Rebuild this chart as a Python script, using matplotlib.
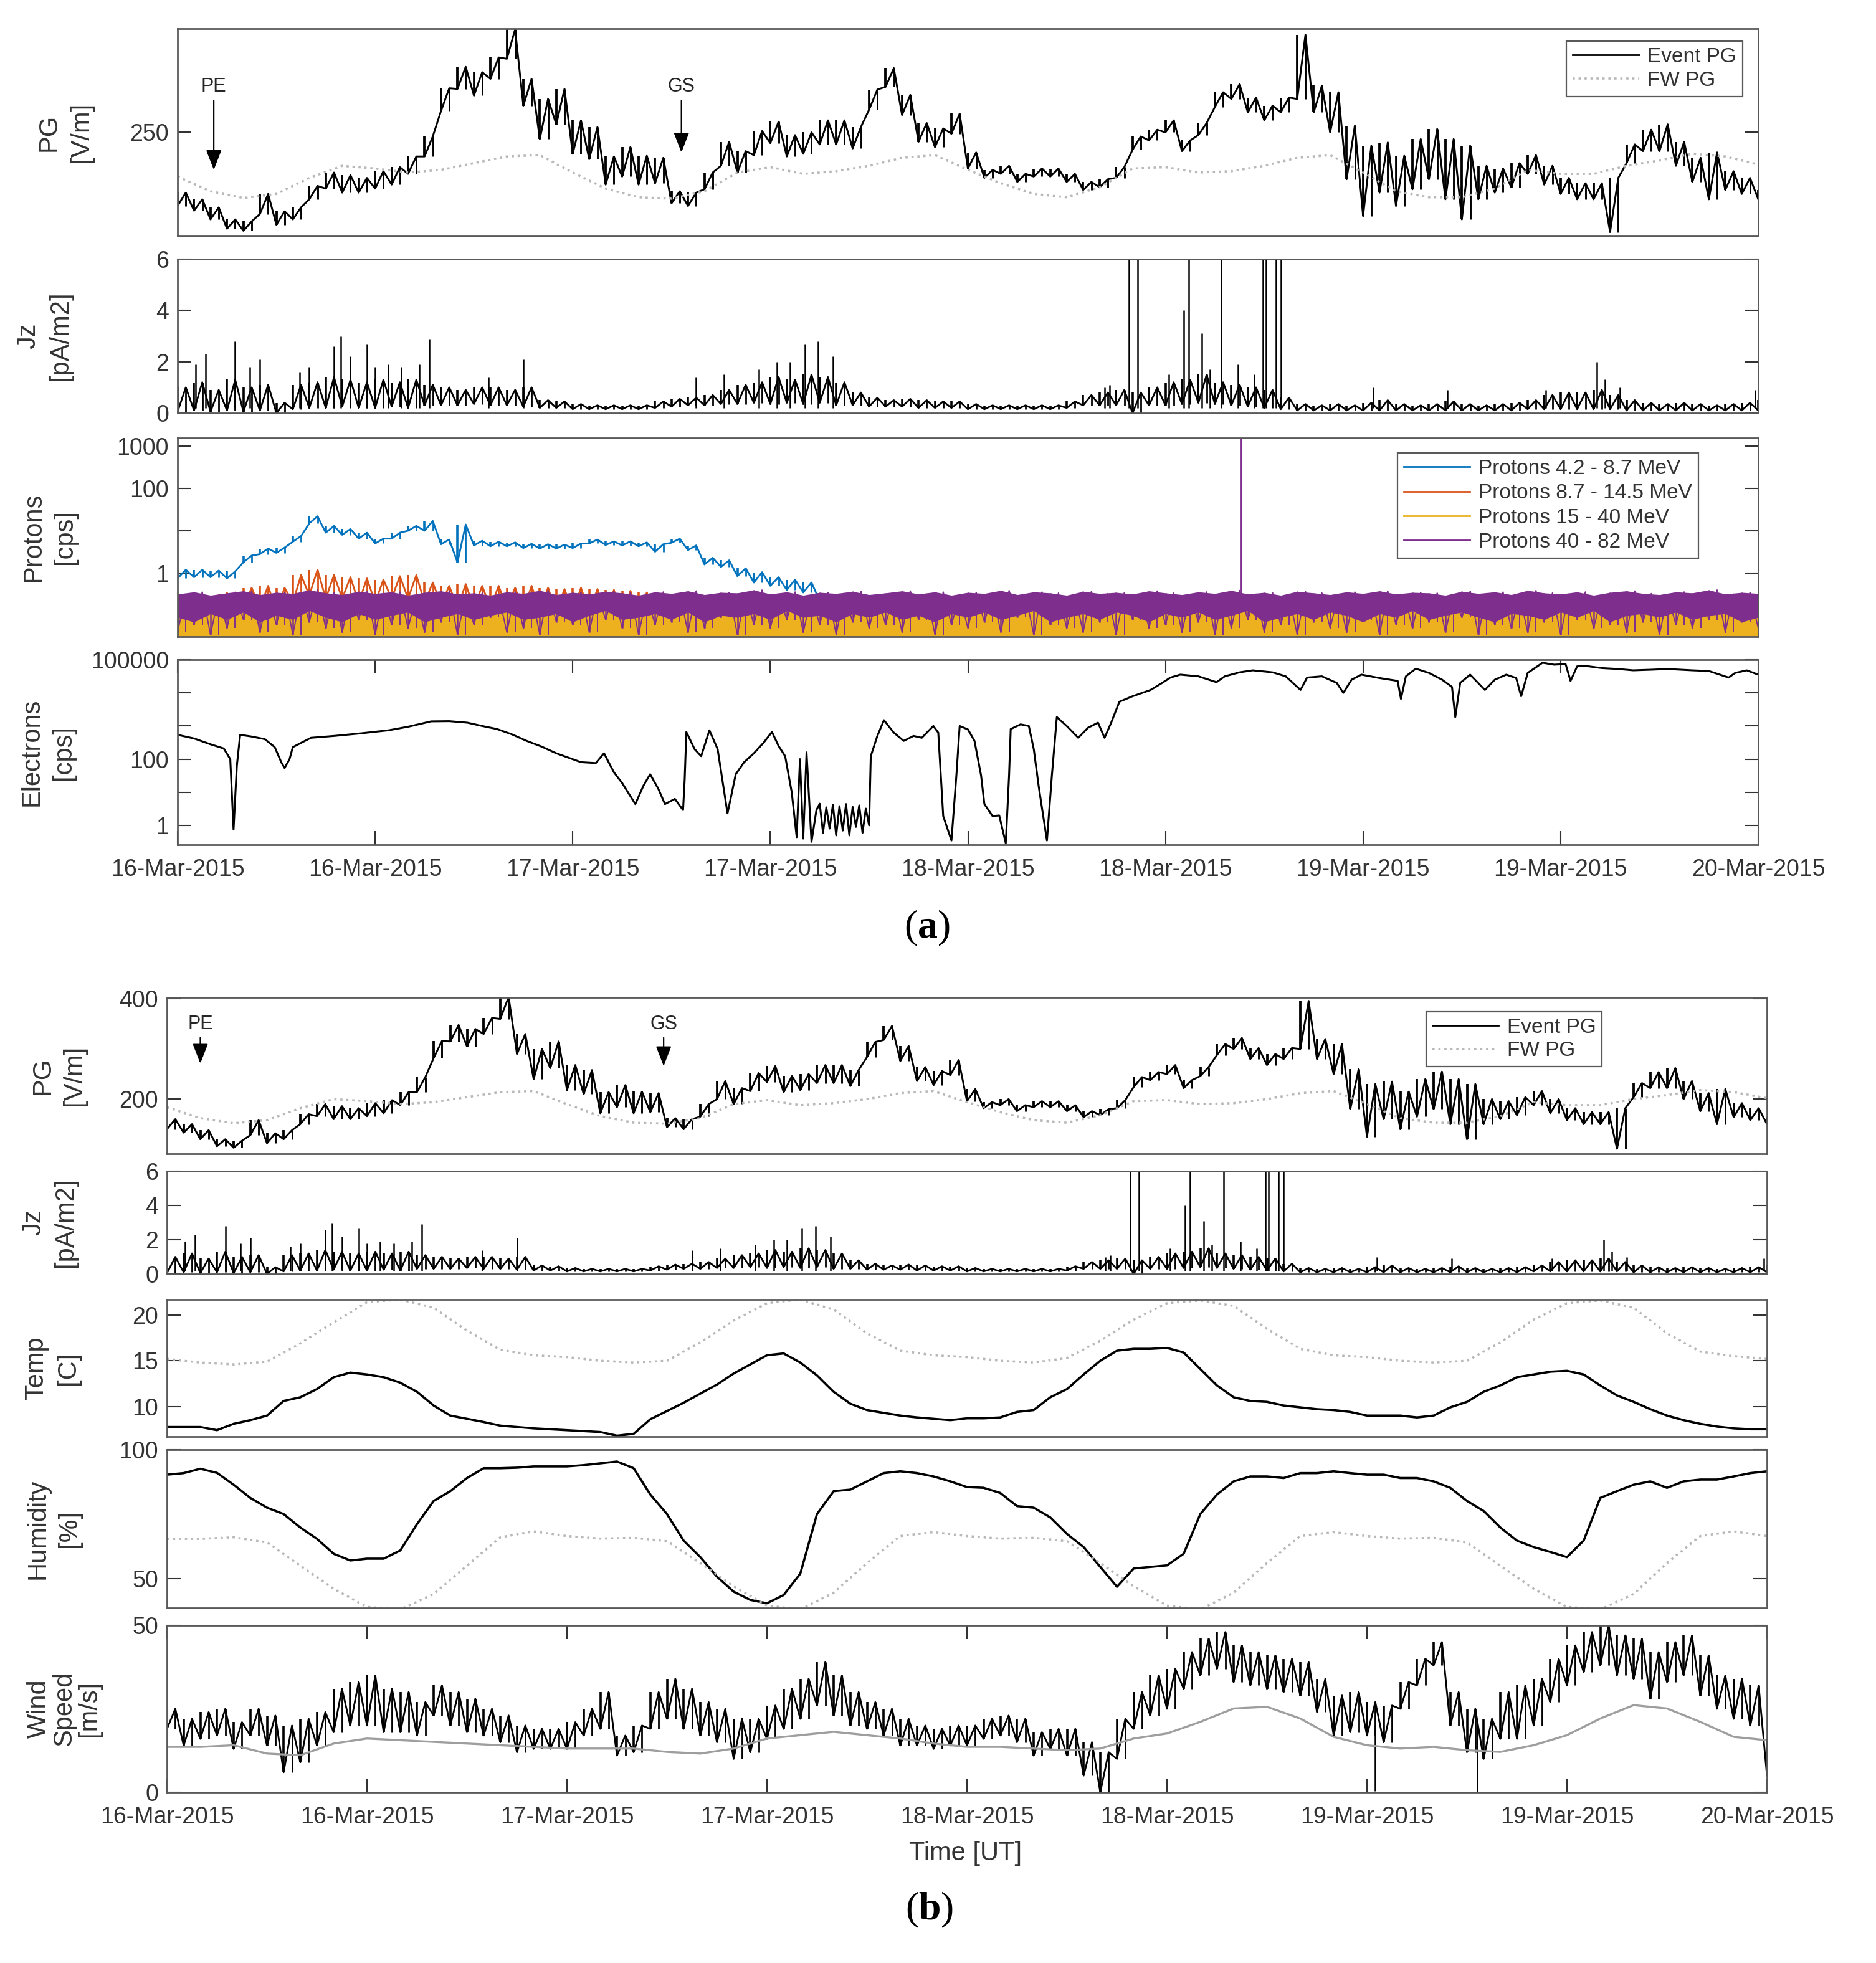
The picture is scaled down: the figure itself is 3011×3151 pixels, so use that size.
import matplotlib
matplotlib.use('Agg')
import matplotlib.pyplot as plt
import matplotlib.dates as mdates
from matplotlib.lines import Line2D
from matplotlib.ticker import FixedLocator, FixedFormatter, LogLocator, NullFormatter, NullLocator
import numpy as np
from datetime import datetime

plt.rcParams['font.family'] = ['Liberation Sans', 'DejaVu Sans']
plt.rcParams['mathtext.fontset'] = 'custom'
plt.rcParams['mathtext.rm'] = 'Liberation Serif'
plt.rcParams['mathtext.bf'] = 'Liberation Serif:bold'

# ---------------- data ----------------
start = mdates.date2num(datetime(2015, 3, 16))
hours = np.arange(97)          # hourly samples 16-Mar 00:00 .. 20-Mar 00:00
hours2 = np.arange(0, 97, 2)   # 2-hourly samples

# Event PG, hourly envelope [V/m]
pg_lo = [140, 133, 120, 106, 103, 128, 112, 120, 150, 166,
         160, 160, 166, 172, 188, 214, 282, 315, 305, 330,
         360, 290, 240, 262, 218, 210, 172, 184, 172, 174,
         144, 140, 165, 200, 190, 216, 234, 214, 218, 232,
         232, 226, 284, 318, 276, 236, 228, 248, 196, 182,
         188, 176, 184, 184, 176, 164, 168, 182, 224, 238,
         250, 222, 246, 288, 300, 280, 268, 280, 300, 280,
         250, 180, 125, 160, 140, 165, 180, 150, 120, 150,
         160, 168, 188, 172, 158, 150, 150, 101, 204, 222,
         222, 200, 176, 150, 164, 158, 150]
pg_hi = [160, 150, 138, 120, 117, 158, 132, 138, 170, 190,
         186, 182, 192, 198, 214, 244, 316, 348, 340, 362,
         404, 330, 300, 315, 268, 258, 214, 228, 215, 212,
         162, 160, 190, 236, 222, 252, 266, 246, 250, 268,
         268, 258, 314, 346, 306, 264, 256, 278, 220, 194,
         200, 188, 196, 196, 188, 176, 180, 198, 244, 254,
         268, 238, 264, 310, 322, 302, 290, 302, 396, 320,
         310, 260, 230, 235, 215, 240, 255, 240, 230, 200,
         196, 204, 216, 200, 182, 174, 174, 182, 232, 254,
         262, 236, 212, 220, 192, 182, 164]
# Fair weather PG, 2-hourly
pg_fw = [184, 162, 152, 158, 182, 200, 196, 190, 194, 204,
         214, 216, 190, 166, 153, 151, 162, 190, 198, 188,
         192, 200, 212, 216, 194, 174, 158, 153, 168, 196,
         198, 190, 192, 200, 212, 216, 190, 162, 153, 153,
         166, 194, 188, 188, 200, 208, 218, 214, 202]

# Jz, hourly envelope [pA/m2] plus narrow spikes
jz_lo = [0.05, 0.1, 0.05, 0.1, 0.05, 0.1, 0.0, 0.15, 0.2, 0.2,
         0.25, 0.2, 0.2, 0.25, 0.2, 0.3, 0.3, 0.3, 0.35, 0.3,
         0.3, 0.25, 0.2, 0.2, 0.15, 0.15, 0.15, 0.15, 0.15, 0.2,
         0.25, 0.3, 0.3, 0.35, 0.35, 0.4, 0.35, 0.4, 0.35, 0.4,
         0.3, 0.3, 0.25, 0.25, 0.25, 0.2, 0.2, 0.2, 0.15, 0.15,
         0.15, 0.15, 0.15, 0.15, 0.2, 0.3, 0.3, 0.3, 0.0, 0.3,
         0.3, 0.35, 0.4, 0.35, 0.3, 0.25, 0.2, 0.15, 0.1, 0.1,
         0.1, 0.1, 0.1, 0.1, 0.1, 0.1, 0.1, 0.1, 0.1, 0.1,
         0.1, 0.1, 0.15, 0.15, 0.15, 0.15, 0.15, 0.15, 0.1, 0.1,
         0.1, 0.1, 0.1, 0.1, 0.1, 0.1, 0.1]
jz_hi = [1.0, 1.2, 0.9, 1.3, 1.0, 1.1, 0.4, 1.1, 1.2, 1.4,
         1.3, 1.2, 1.3, 1.2, 1.3, 1.1, 1.0, 0.9, 1.0, 1.0,
         0.9, 1.0, 0.5, 0.45, 0.35, 0.3, 0.3, 0.3, 0.3, 0.45,
         0.55, 0.6, 0.7, 0.9, 1.1, 1.2, 1.4, 1.3, 1.5, 1.4,
         1.2, 0.8, 0.6, 0.5, 0.55, 0.5, 0.45, 0.45, 0.35, 0.3,
         0.3, 0.3, 0.3, 0.3, 0.45, 0.7, 0.8, 0.9, 0.8, 1.0,
         1.2, 1.3, 1.5, 1.2, 1.1, 1.0, 0.9, 0.6, 0.35, 0.3,
         0.35, 0.3, 0.4, 0.5, 0.35, 0.3, 0.35, 0.45, 0.35, 0.3,
         0.35, 0.4, 0.5, 0.7, 0.8, 0.8, 0.9, 0.7, 0.5, 0.4,
         0.35, 0.4, 0.35, 0.3, 0.35, 0.4, 0.5]
jz_spike_h = [1.1, 1.7, 3.5, 4.4, 5.0, 7.4, 8.0, 9.5, 9.9, 10.5,
              11.5, 12.0, 12.8, 13.6, 14.7, 15.3, 18.9, 21.0, 31.5, 33.2,
              35.3, 36.4, 37.2, 38.1, 38.9, 39.8, 56.3, 56.6, 57.8, 58.3,
              60.2, 61.1, 61.4, 62.2, 62.7, 63.4, 64.4, 65.4, 65.9, 66.1,
              66.7, 67.0, 72.6, 77.1, 83.1, 86.2, 86.7, 87.6, 95.8]
jz_spike_v = [1.9, 2.3, 2.8, 1.8, 2.1, 1.6, 1.8, 2.6, 3.0, 2.2,
              2.7, 1.8, 1.9, 1.8, 1.9, 2.9, 1.4, 2.1, 1.4, 1.5,
              1.7, 2.0, 2.0, 2.7, 2.8, 2.2, 1.0, 1.1, 7.0, 7.0,
              1.5, 4.0, 7.0, 3.1, 1.7, 7.0, 1.9, 1.5, 7.0, 7.0,
              7.0, 7.0, 1.0, 0.9, 0.9, 2.0, 1.3, 1.0, 0.9]

# Protons [cps]
blue_lo = [0.75, 0.8, 0.8, 0.75, 1.8, 2.8, 3.0, 5.5, 15, 9,
           8, 6.5, 5, 6.5, 10, 10, 4.8, 1.8, 4.5, 4.3,
           4.3, 3.9, 3.8, 3.8, 3.9, 5.0, 4.6, 4.5, 4.3, 3.2,
           5.2, 3.5, 1.6, 1.4, 0.85, 0.6, 0.5, 0.4, 0.35, 0.22]
blue_hi = [1.2, 1.2, 1.15, 1.1, 2.6, 3.8, 4.0, 7.5, 22, 13,
           11, 9, 6.5, 9, 13, 17, 6.2, 14, 5.8, 5.5,
           5.3, 4.9, 4.8, 4.7, 5.0, 6.2, 5.6, 5.6, 5.3, 4.8,
           6.5, 4.5, 2.3, 2.0, 1.3, 1.05, 0.8, 0.7, 0.6, 0.3]
orange_lo = [0.12, 0.1, 0.12, 0.1, 0.15, 0.15, 0.12, 0.2, 0.3, 0.25,
             0.25, 0.2, 0.2, 0.25, 0.25, 0.2, 0.18, 0.15, 0.15, 0.15,
             0.15, 0.13, 0.13, 0.12, 0.12, 0.12, 0.1, 0.1, 0.1, 0.1,
             0.1]
orange_hi = [0.3, 0.32, 0.3, 0.35, 0.45, 0.5, 0.45, 0.9, 1.2, 0.9,
             0.8, 0.75, 0.7, 0.85, 0.9, 0.6, 0.5, 0.55, 0.5, 0.5,
             0.45, 0.5, 0.45, 0.42, 0.45, 0.42, 0.4, 0.38, 0.35, 0.33,
             0.3]
yellow_hi = [0.09, 0.07, 0.11, 0.08, 0.12, 0.07, 0.10, 0.08, 0.13, 0.09,
             0.07, 0.11, 0.08, 0.10, 0.12, 0.07, 0.09, 0.11, 0.08, 0.10,
             0.12, 0.08, 0.09, 0.11, 0.07, 0.10, 0.13, 0.08, 0.09, 0.11,
             0.08, 0.12, 0.07, 0.10, 0.09, 0.11, 0.08, 0.13, 0.09, 0.10,
             0.07, 0.11, 0.09, 0.12, 0.08, 0.10, 0.07, 0.11, 0.09, 0.12,
             0.08, 0.10, 0.13, 0.07, 0.09, 0.11, 0.08, 0.12, 0.10, 0.07,
             0.11, 0.09, 0.12, 0.08, 0.10, 0.13, 0.07, 0.09, 0.11, 0.08,
             0.12, 0.10, 0.07, 0.11, 0.09, 0.13, 0.08, 0.10, 0.12, 0.09,
             0.07, 0.11, 0.10, 0.08, 0.12, 0.09, 0.13, 0.07, 0.10, 0.11,
             0.09, 0.12, 0.08, 0.10, 0.11, 0.07, 0.09]
purple_lo = [0.04, 0.06, 0.035, 0.05, 0.08, 0.04, 0.06, 0.035, 0.07, 0.05,
             0.04, 0.08, 0.035, 0.06, 0.05, 0.04, 0.07, 0.035, 0.06, 0.09,
             0.04, 0.05, 0.035, 0.07, 0.06, 0.04, 0.08, 0.05, 0.035, 0.06,
             0.07, 0.04, 0.05, 0.09, 0.035, 0.06, 0.05, 0.08, 0.04, 0.06,
             0.035, 0.07, 0.05, 0.06, 0.04, 0.08, 0.035, 0.06, 0.05, 0.07,
             0.04, 0.09, 0.035, 0.06, 0.05, 0.04, 0.07, 0.035, 0.08, 0.05,
             0.06, 0.04, 0.07, 0.035, 0.05, 0.08, 0.04, 0.06, 0.035, 0.07,
             0.05, 0.04, 0.08, 0.035, 0.06, 0.05, 0.07, 0.04, 0.09, 0.035,
             0.06, 0.05, 0.04, 0.07, 0.035, 0.08, 0.05, 0.06, 0.04, 0.07,
             0.035, 0.06, 0.05, 0.08, 0.04, 0.07, 0.05]
purple_hi = [0.32, 0.36, 0.30, 0.34, 0.38, 0.31, 0.35, 0.33, 0.40, 0.34,
             0.31, 0.37, 0.33, 0.36, 0.30, 0.35, 0.38, 0.32, 0.34, 0.30,
             0.36, 0.33, 0.39, 0.31, 0.35, 0.32, 0.37, 0.34, 0.30, 0.36,
             0.33, 0.38, 0.31, 0.35, 0.34, 0.40, 0.32, 0.36, 0.30, 0.35,
             0.33, 0.37, 0.31, 0.34, 0.38, 0.32, 0.36, 0.30, 0.35, 0.33,
             0.39, 0.31, 0.36, 0.34, 0.30, 0.37, 0.33, 0.35, 0.32, 0.38,
             0.34, 0.31, 0.36, 0.33, 0.39, 0.32, 0.35, 0.30, 0.37, 0.34,
             0.31, 0.36, 0.33, 0.38, 0.32, 0.35, 0.34, 0.30, 0.37, 0.33,
             0.36, 0.31, 0.39, 0.34, 0.32, 0.36, 0.30, 0.35, 0.38, 0.33,
             0.31, 0.36, 0.34, 0.40, 0.32, 0.35, 0.33]
purple_spike_h = 64.6
purple_spike_v = 1500

# Electrons [cps], irregular samples
elec_h = [0.0, 1.0, 2.0, 2.8, 3.2, 3.4, 3.6, 3.8, 4.5, 5.3,
          5.9, 6.3, 6.5, 6.8, 7.0, 8.1, 9.5, 11.0, 12.8, 14.0,
          15.4, 16.5, 17.6, 18.5, 19.4, 20.3, 21.2, 22.1, 23.0, 24.5,
          25.4, 25.9, 26.5, 27.0, 27.8, 28.3, 28.7, 29.2, 29.6, 30.2,
          30.7, 30.8, 30.9, 31.4, 31.8, 32.3, 32.8, 33.4, 33.9, 34.4,
          35.0, 35.6, 36.1, 36.5, 36.9, 37.3, 37.6, 37.8, 38.0, 38.2,
          38.5, 38.8, 39.0, 39.2, 39.4, 39.6, 39.8, 40.0, 40.2, 40.4,
          40.6, 40.8, 41.0, 41.2, 41.4, 41.6, 41.8, 42.0, 42.1, 42.5,
          42.9, 43.5, 44.1, 44.7, 45.2, 45.9, 46.2, 46.5, 47.0, 47.3,
          47.5, 48.0, 48.4, 48.8, 49.0, 49.5, 49.9, 50.3, 50.5, 50.6,
          51.2, 51.7, 52.0, 52.3, 52.6, 52.8, 53.1, 53.4, 54.0, 54.7,
          55.3, 55.9, 56.3, 56.7, 57.2, 58.0, 59.1, 59.8, 60.3, 60.9,
          62.0, 63.1, 63.6, 64.5, 65.3, 66.5, 67.3, 68.2, 68.6, 69.5,
          70.4, 70.8, 71.3, 71.9, 73.0, 74.1, 74.3, 74.6, 75.2, 76.0,
          76.8, 77.4, 77.6, 77.9, 78.5, 79.4, 80.0, 80.7, 81.3, 81.6,
          82.0, 82.9, 83.6, 84.3, 84.6, 85.0, 85.4, 86.5, 87.5, 88.4,
          89.5, 90.5, 92.0, 93.0, 94.2, 94.6, 95.3, 96.0]
elec_v = [540, 420, 280, 210, 100, 0.75, 63, 540, 480, 400,
          230, 80, 54, 100, 230, 440, 500, 590, 740, 950,
          1380, 1400, 1260, 1000, 810, 560, 355, 240, 150, 81,
          76, 150, 40, 19, 4.4, 16, 35, 12.6, 4.4, 6.3,
          2.9, 25, 660, 200, 123, 740, 200, 2.3, 35, 80,
          150, 316, 660, 250, 123, 10, 0.44, 100, 0.4, 160,
          0.32, 2.9, 4.5, 0.6, 3.5, 0.8, 4.2, 0.5, 3.8, 0.7,
          4.4, 0.5, 3.6, 0.9, 4.0, 0.6, 3.2, 1.0, 123, 500,
          1500, 630, 355, 500, 440, 1000, 630, 1.9, 0.35, 32,
          1000, 790, 355, 32, 4.4, 1.9, 2.0, 0.29, 32, 810,
          1120, 1000, 200, 15, 1.6, 0.35, 32, 1860, 1000, 440,
          890, 1260, 440, 1260, 5400, 7900, 12300, 20000, 29000, 35500,
          31600, 21000, 31600, 41700, 47900, 41700, 31600, 12300, 29000, 31600,
          20000, 10000, 25000, 35500, 28000, 23000, 6600, 31600, 53700, 40000,
          25000, 15100, 1860, 20000, 35500, 12300, 25000, 35500, 28000, 7900,
          40000, 81000, 70800, 74000, 23000, 63000, 66000, 56000, 52500, 47900,
          50000, 52500, 47900, 45700, 29000, 40000, 47900, 35500]

# Temperature [C]
temp = [7.75, 7.75, 7.75, 7.4, 8.1, 8.5, 9.0, 10.6, 11.0, 11.9,
        13.2, 13.7, 13.5, 13.2, 12.6, 11.6, 10.1, 9.0, 8.65, 8.3,
        7.9, 7.75, 7.6, 7.5, 7.4, 7.3, 7.2, 6.8, 7.0, 8.6,
        9.5, 10.4, 11.4, 12.4, 13.6, 14.6, 15.6, 15.8, 14.8, 13.4,
        11.6, 10.3, 9.6, 9.3, 9.0, 8.8, 8.65, 8.5, 8.7, 8.7,
        8.8, 9.4, 9.6, 11.0, 11.9, 13.5, 15.0, 16.1, 16.3, 16.3,
        16.4, 15.9, 14.1, 12.3, 11.0, 10.6, 10.5, 10.1, 9.9, 9.7,
        9.6, 9.4, 9.0, 9.0, 9.0, 8.8, 9.0, 9.9, 10.5, 11.6,
        12.3, 13.2, 13.5, 13.8, 13.9, 13.5, 12.3, 11.2, 10.5, 9.7,
        9.0, 8.5, 8.1, 7.8, 7.6, 7.5, 7.5]
temp_fw = [15.2, 14.8, 14.6, 14.9, 16.9, 19.2, 21.4, 21.7, 20.8, 18.3,
           16.2, 15.6, 15.4, 15.0, 14.8, 15.0, 17.0, 19.4, 21.3, 21.7,
           20.6, 18.0, 16.1, 15.6, 15.4, 15.0, 14.8, 15.3, 17.2, 19.5,
           21.3, 21.6, 21.0, 18.5, 16.3, 15.6, 15.4, 15.0, 14.8, 15.0,
           17.0, 19.5, 21.3, 21.6, 20.8, 18.0, 16.0, 15.5, 15.2]

# Humidity [%]
hum = [90.3, 90.9, 92.6, 91.0, 86.4, 81.3, 77.5, 75.0, 69.8, 65.4,
       59.6, 57.0, 57.7, 57.7, 60.9, 71.1, 80.1, 83.9, 89.0, 92.8,
       92.8, 93.0, 93.5, 93.5, 93.5, 94.0, 94.7, 95.4, 92.8, 82.6,
       75.0, 64.7, 58.3, 50.7, 44.9, 41.7, 40.4, 43.6, 51.9, 75.0,
       83.9, 84.5, 87.7, 90.9, 91.6, 90.9, 89.6, 87.7, 85.5, 85.2,
       83.2, 78.1, 77.5, 73.7, 67.3, 62.2, 54.5, 46.8, 53.9, 54.5,
       55.1, 59.6, 75.0, 82.6, 87.7, 89.6, 89.6, 89.0, 90.9, 90.9,
       91.6, 90.9, 90.3, 90.3, 89.0, 89.0, 87.7, 85.2, 80.1, 76.2,
       69.8, 64.7, 62.2, 60.3, 58.3, 64.7, 81.3, 83.9, 86.4, 87.7,
       85.2, 87.7, 88.4, 88.4, 89.6, 90.9, 91.6]
hum_fw = [65.4, 65.4, 66.0, 64.0, 55.0, 46.0, 39.0, 38.0, 44.0, 55.0,
          66.0, 68.3, 66.5, 65.5, 65.8, 64.5, 56.0, 47.0, 39.5, 38.0,
          44.5, 56.0, 66.5, 68.0, 66.5, 65.5, 65.8, 64.5, 56.0, 47.0,
          39.5, 38.0, 44.5, 56.0, 66.5, 68.0, 66.5, 65.5, 65.8, 64.0,
          55.0, 46.0, 39.0, 38.0, 44.0, 56.0, 66.5, 68.3, 66.5]

# Wind speed [m/s], hourly envelope
wind_lo = [19, 14, 16, 17, 13, 17, 14, 6, 9, 14,
           18, 20, 20, 18, 18, 17, 23, 20, 18, 17,
           15, 12, 13, 13, 13, 17, 19, 11, 12, 19,
           22, 19, 17, 15, 10, 12, 16, 19, 22, 26,
           23, 20, 19, 17, 14, 14, 13, 14, 14, 16,
           17, 15, 11, 13, 11, 5, 0, 10, 19, 23,
           25, 31, 35, 37, 33, 32, 31, 30, 29, 24,
           17, 18, 17, 15, 25, 32, 38, 20, 12, 10,
           16, 16, 20, 27, 32, 36, 38, 35, 34, 28,
           33, 35, 29, 25, 22, 20, 5]
wind_hi = [25, 22, 24, 25, 21, 25, 23, 20, 22, 24,
           31, 33, 35, 31, 30, 27, 32, 30, 28, 25,
           23, 20, 19, 19, 21, 25, 30, 17, 20, 30,
           34, 31, 27, 25, 22, 22, 26, 31, 34, 39,
           35, 30, 27, 25, 22, 20, 19, 20, 20, 22,
           23, 22, 18, 19, 19, 15, 12, 22, 30, 35,
           37, 42, 46, 48, 44, 42, 41, 40, 39, 34,
           29, 30, 27, 26, 33, 40, 45, 30, 25, 22,
           30, 32, 34, 40, 44, 48, 50, 47, 46, 42,
           45, 47, 41, 35, 34, 32, 16]
wind_dip_h = [72.5, 78.6]
wind_dip_v = [0.3, 0.2]
wind_fw = [13.6, 13.6, 14.1, 11.6, 11.1, 14.6, 16.1, 15.6, 15.1, 14.6,
           14.1, 13.6, 13.1, 13.1, 13.1, 12.1, 11.6, 13.1, 16.1, 17.1,
           18.1, 17.1, 16.1, 14.6, 13.6, 13.6, 13.1, 12.6, 13.1, 16.1,
           17.6, 21.1, 25.1, 25.6, 22.1, 16.6, 14.1, 13.1, 13.6, 12.6,
           12.1, 14.1, 17.1, 22.1, 26.1, 25.1, 21.1, 16.6, 15.6]

proton_labels = ['Protons 4.2 - 8.7 MeV', 'Protons 8.7 - 14.5 MeV',
                 'Protons 15 - 40 MeV', 'Protons 40 - 82 MeV']
proton_colors = ['#0072BD', '#D95319', '#EDB120', '#7E2F8E']


def to_date(h):
    return start + np.asarray(h, dtype=float) / 24.0


def zigzag(h, lo, hi):
    # alternate the low and high readings of each hour to draw the noisy trace
    h = np.asarray(h, dtype=float)
    t = np.column_stack([h, h + 0.5]).ravel()
    v = np.column_stack([lo, hi]).ravel()
    return to_date(t), v


def noisy(ax, h, lo, hi, color, lw=1.6, z=2):
    # noisy trace: a vertical bar per reading spanning its range, joined by a zigzag
    t, v = zigzag(h, lo, hi)
    line, = ax.plot(t, v, color=color, lw=lw, zorder=z)
    ax.vlines(to_date(h), lo, hi, color=color, lw=lw * 1.3, zorder=z)
    ax.vlines(to_date(np.asarray(h) + 0.5), lo, hi, color=color, lw=lw, zorder=z)
    return line


# ---------------- figure ----------------
W, H = 3011, 3151
fig = plt.figure(figsize=(W / 100, H / 100), dpi=100)
TXT = '0.2'


def add_box(l, t, r, b):
    return fig.add_axes([l / W, 1 - b / H, (r - l) / W, (b - t) / H])


def style(ax, label, lx, bottom=False, spacing=1.35):
    ax.set_xlim(start, start + 4)
    for s in ax.spines.values():
        s.set_color('0.35')
        s.set_linewidth(2)
        s.set_zorder(5)
    ax.tick_params(axis='y', which='major', direction='in', left=True, right=True,
                   length=16, width=1.5, labelsize=27, colors=TXT, pad=10)
    ax.tick_params(axis='y', which='minor', direction='in', left=True, right=True,
                   length=8, width=1.2, colors=TXT)
    if bottom:
        ax.xaxis.set_major_locator(FixedLocator(to_date(np.arange(0, 97, 12))))
        ax.xaxis.set_major_formatter(mdates.DateFormatter('%d-%b-%Y'))
        ax.tick_params(axis='x', which='major', direction='in', top=True, bottom=True,
                       length=16, width=1.5, labelsize=27, colors=TXT, pad=16)
        ax.xaxis.set_minor_locator(NullLocator())
    else:
        ax.tick_params(axis='x', which='both', bottom=False, top=False, labelbottom=False)
    ax.text(lx, 0.5, label, transform=ax.transAxes, rotation=90, ha='center',
            va='center', fontsize=30, color=TXT, linespacing=spacing,
            multialignment='center')


def pg_panel(ax, ylim, ticks, lx, legend_anchor, pe, gs):
    ev = noisy(ax, hours, pg_lo, pg_hi, 'k', lw=2.1)
    fw, = ax.plot(to_date(hours2), pg_fw, color='0.72', lw=2.6, ls=':', zorder=3)
    ax.set_ylim(*ylim)
    ax.set_yticks(ticks)
    style(ax, 'PG\n[V/m]', lx)
    for name, (h, yt, ytip) in (('PE', pe), ('GS', gs)):
        ax.annotate(name, xy=(to_date(h), ytip), xytext=(to_date(h), yt),
                    ha='center', va='center', fontsize=22, color='0.15',
                    arrowprops=dict(arrowstyle='-|>,head_length=0.9,head_width=0.35',
                                    color='k', lw=1.6, shrinkA=3, shrinkB=0,
                                    mutation_scale=22))
    leg = ax.legend([Line2D([], [], color='k', lw=2), fw], ['Event PG', 'FW PG'],
                    loc='upper right', bbox_to_anchor=legend_anchor, fontsize=24,
                    fancybox=False, edgecolor='0.35', framealpha=1,
                    handlelength=3.2, borderpad=0.3, labelspacing=0.2,
                    handletextpad=0.4, borderaxespad=0)
    leg.get_frame().set_linewidth(1.6)
    leg.set_zorder(6)
    for tx in leg.get_texts():
        tx.set_color(TXT)


def jz_panel(ax, lx):
    noisy(ax, hours, jz_lo, jz_hi, 'k', lw=2.0)
    ax.vlines(to_date(jz_spike_h), 0.2, jz_spike_v, color='k', lw=1.8)
    ax.set_ylim(0, 6)
    ax.set_yticks([0, 2, 4, 6])
    style(ax, 'Jz\n[pA/m2]', lx)


# ---------- panel (a) ----------
ax1 = add_box(285, 46, 2822, 379)
pg_panel(ax1, (95, 405), [250], -0.0713, (0.99, 0.94),
         (2.2, 318, 194), (30.6, 318, 220))

ax2 = add_box(285, 416, 2822, 663)
jz_panel(ax2, -0.0843)

ax3 = add_box(285, 703, 2822, 1022)
ax3.set_yscale('log')
noisy(ax3, hours[:40], blue_lo, blue_hi, proton_colors[0], lw=2.0, z=2.0)
noisy(ax3, hours[:31], orange_lo, orange_hi, proton_colors[1], lw=2.0, z=2.1)
ax3.fill_between(to_date(hours), 0.0316, purple_hi, color=proton_colors[3],
                 lw=0, zorder=2.2)
ax3.fill_between(to_date(hours), 0.0316, yellow_hi, color=proton_colors[2],
                 lw=0, zorder=2.25)
noisy(ax3, hours, purple_lo, purple_hi, proton_colors[3], lw=1.4, z=2.3)
ax3.vlines(to_date(purple_spike_h), 0.3, purple_spike_v, color=proton_colors[3],
           lw=2, zorder=2.3)
ax3.set_ylim(0.0316, 1550)
ax3.yaxis.set_major_locator(FixedLocator([0.1, 1, 10, 100, 1000]))
ax3.yaxis.set_major_formatter(FixedFormatter(['', '1', '', '100', '1000']))
ax3.yaxis.set_minor_locator(LogLocator(base=10, subs=np.arange(2, 10)))
ax3.yaxis.set_minor_formatter(NullFormatter())
style(ax3, 'Protons\n[cps]', -0.0812)
handles = [Line2D([], [], color=c, lw=2) for c in proton_colors]
leg = ax3.legend(handles, proton_labels, loc='upper right',
                 bbox_to_anchor=(0.962, 0.925), fontsize=24, fancybox=False,
                 edgecolor='0.35', framealpha=1, handlelength=3.2,
                 borderpad=0.3, labelspacing=0.25, handletextpad=0.4,
                 borderaxespad=0)
leg.get_frame().set_linewidth(1.6)
for tx in leg.get_texts():
    tx.set_color(TXT)

ax4 = add_box(285, 1059, 2822, 1356)
ax4.set_yscale('log')
ax4.plot(to_date(elec_h), elec_v, color='k', lw=2.2)
ax4.set_ylim(0.26, 1e5)
ax4.yaxis.set_major_locator(FixedLocator([1, 10, 100, 1000, 10000, 100000]))
ax4.yaxis.set_major_formatter(FixedFormatter(['1', '', '100', '', '', '100000']))
ax4.yaxis.set_minor_locator(NullLocator())
style(ax4, 'Electrons\n[cps]', -0.0822, bottom=True)

# ---------- panel (b) ----------
bx1 = add_box(268, 1601, 2836, 1852)
pg_panel(bx1, (91, 403), [200, 400], -0.0678, (0.897, 0.91),
         (2.0, 350, 271), (29.8, 350, 266))

bx2 = add_box(268, 1880, 2836, 2045)
jz_panel(bx2, -0.0732)

bx3 = add_box(268, 2086, 2836, 2306)
bx3.plot(to_date(hours), temp, color='k', lw=2.6)
bx3.plot(to_date(hours2), temp_fw, color='0.72', lw=2.6, ls=':')
bx3.set_ylim(6.7, 21.7)
bx3.set_yticks([10, 15, 20])
style(bx3, 'Temp\n[C]', -0.0717)

bx4 = add_box(268, 2327, 2836, 2581)
bx4.plot(to_date(hours), hum, color='k', lw=2.6)
bx4.plot(to_date(hours2), hum_fw, color='0.72', lw=2.6, ls=':')
bx4.set_ylim(38.6, 100)
bx4.set_yticks([50, 100])
style(bx4, 'Humidity\n[%]', -0.0709)

bx5 = add_box(268, 2609, 2836, 2877)
noisy(bx5, hours, wind_lo, wind_hi, 'k', lw=2.0)
bx5.vlines(to_date(wind_dip_h), wind_dip_v, 20, color='k', lw=1.8)
bx5.plot(to_date(hours2), wind_fw, color='0.62', lw=2.4, zorder=3)
bx5.set_ylim(0, 50)
bx5.set_yticks([0, 50])
style(bx5, 'Wind\nSpeed\n[m/s]', -0.0643, bottom=True, spacing=1.0)

fig.text(1550 / W, 1 - 2975 / H, 'Time [UT]', ha='center', va='center',
         fontsize=30, color=TXT)
fig.text(1488 / W, 1 - 1490 / H, r'$(\mathbf{a})$', ha='center', va='center',
         fontsize=46, color='k')
fig.text(1492 / W, 1 - 3066 / H, r'$(\mathbf{b})$', ha='center', va='center',
         fontsize=46, color='k')

fig.savefig('out.png', dpi=100)
